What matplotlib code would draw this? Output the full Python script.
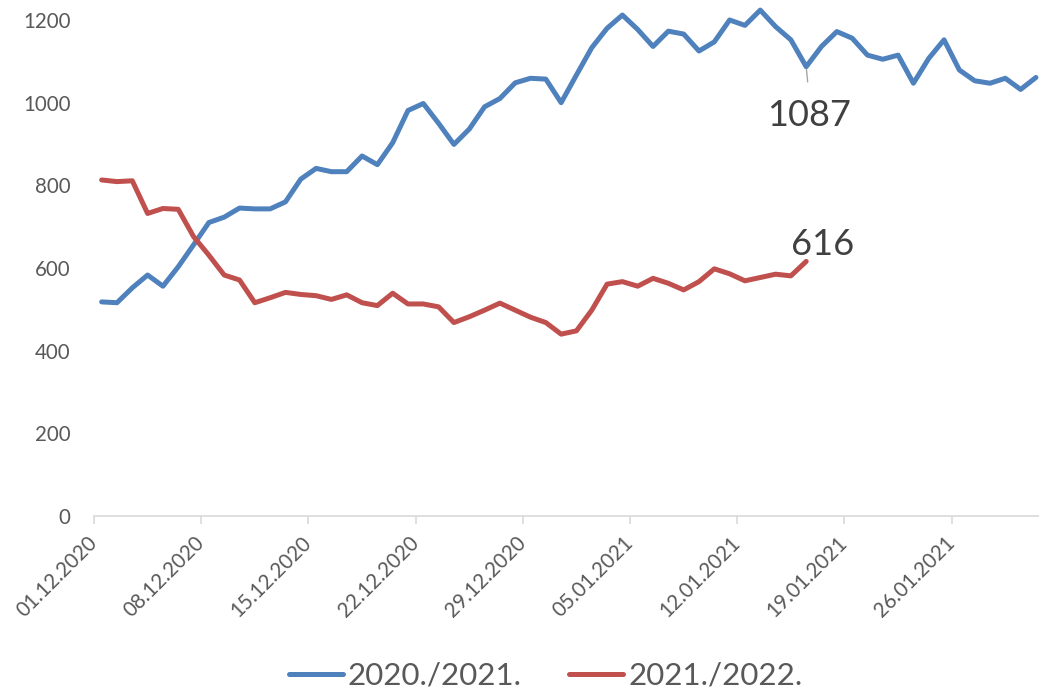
import numpy as np
import matplotlib.pyplot as plt

plt.rcParams['font.family'] = ['Lato', 'DejaVu Sans']

# daily values, 01.12. onward
season_2020 = [518, 516, 552, 583, 556, 603, 656, 710, 723, 745,
               743, 743, 760, 815, 841, 833, 833, 871, 850, 903,
               981, 998, 950, 899, 936, 990, 1010, 1048, 1059, 1057,
               1000, 1067, 1133, 1180, 1212, 1177, 1136, 1173, 1166, 1125,
               1147, 1200, 1187, 1224, 1184, 1152, 1087, 1136, 1172, 1156,
               1115, 1105, 1115, 1047, 1107, 1152, 1079, 1053, 1047, 1059,
               1032, 1061]
season_2021 = [813, 809, 811, 732, 744, 742, 676, 631, 583, 571,
               516, 528, 541, 536, 533, 524, 535, 516, 509, 539,
               513, 513, 506, 468, 482, 498, 515, 498, 481, 468,
               440, 448, 498, 561, 567, 556, 575, 563, 547, 567,
               598, 586, 569, 577, 585, 581, 616]
series_names = ['2020./2021.', '2021./2022.']
tick_labels = ['01.12.2020', '08.12.2020', '15.12.2020', '22.12.2020',
               '29.12.2020', '05.01.2021', '12.01.2021', '19.01.2021',
               '26.01.2021']

blue = '#4F81BD'
red = '#C0504D'
grey = '#595959'

fig = plt.figure(figsize=(10.39, 6.92), dpi=100)
ax = fig.add_axes([94 / 1039, 1 - 516 / 692, 1 - 94 / 1039, (516 - 20) / 692])

# points sit between the day tick marks, as in the Excel date axis
x1 = np.arange(len(season_2020)) + 0.5
x2 = np.arange(len(season_2021)) + 0.5
ax.plot(x1, season_2020, color=blue, lw=3.6, solid_capstyle='round',
        solid_joinstyle='round', label=series_names[0], clip_on=False)
ax.plot(x2, season_2021, color=red, lw=3.6, solid_capstyle='round',
        solid_joinstyle='round', label=series_names[1], clip_on=False)

ax.set_xlim(0, 61.7)
ax.set_ylim(0, 1200)
ax.set_yticks(np.arange(0, 1201, 200))
ax.set_xticks(np.arange(0, 7 * len(tick_labels), 7))
ax.set_xticklabels(tick_labels, rotation=45, ha='right', va='center',
                   rotation_mode='anchor')

for s in ['top', 'right', 'left']:
    ax.spines[s].set_visible(False)
ax.spines['bottom'].set_color('#d9d9d9')
ax.spines['bottom'].set_linewidth(1.2)
ax.tick_params(axis='x', colors='#d9d9d9', length=6, width=1.2,
               labelcolor=grey, labelsize=14.8, pad=11)
ax.tick_params(axis='y', length=0, labelcolor=grey, labelsize=14.8, pad=17)

# last-value labels
i1 = 46
ax.annotate(str(season_2020[i1]), xy=(x1[i1], season_2020[i1]),
            xytext=(46.7, 970), ha='center', va='center', fontsize=26,
            color='#404040',
            arrowprops=dict(arrowstyle='-', color='#a6a6a6', lw=1,
                            relpos=(0.5, 1), shrinkA=10, shrinkB=2))
i2 = len(season_2021) - 1
ax.annotate(str(season_2021[i2]), xy=(x2[i2], season_2021[i2]),
            xytext=(47.6, 658), ha='center', va='center', fontsize=26,
            color='#404040')

fig.legend(loc='center', bbox_to_anchor=(0.525, 1 - 676 / 692), ncol=2,
           frameon=False, fontsize=22.5, handlelength=1.75,
           columnspacing=1.5, handletextpad=0.15, labelcolor=grey)

fig.savefig('out.png', dpi=100)
